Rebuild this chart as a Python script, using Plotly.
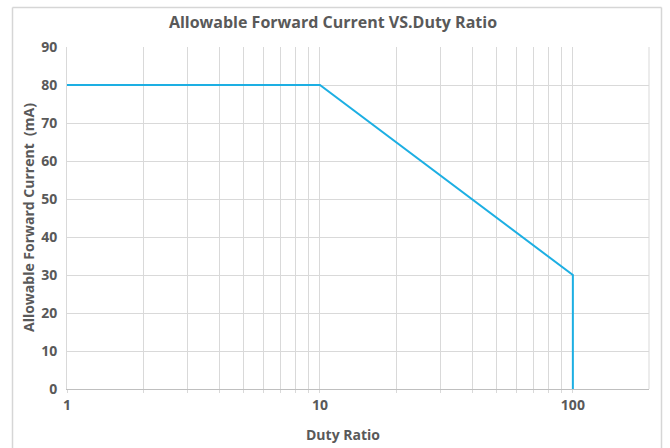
import plotly.graph_objects as go

duty_ratio = [1, 10, 100, 100]
current_ma = [80, 80, 30, 0]

x_grid_vals = [1, 2, 3, 4, 5, 6, 7, 8, 9, 10, 20, 30, 40, 50, 60, 70, 80, 90, 100]
x_grid_text = ["1", "", "", "", "", "", "", "", "", "10", "", "", "", "", "", "", "", "", "100"]
y_ticks = [0, 10, 20, 30, 40, 50, 60, 70, 80, 90]

font_family = "Open Sans, Noto Sans, sans-serif"
text_color = "#595959"
grid_color = "#d9d9d9"

W, H = 670, 448
L, R, T, B = 67, 21, 47, 59
pw, ph = W - L - R, H - T - B

fig = go.Figure()
fig.add_trace(go.Scatter(
    x=duty_ratio, y=current_ma, mode="lines",
    line=dict(color="#1dafe3", width=2),
    showlegend=False, hoverinfo="skip",
))

def px_x(x):
    return (x - L) / pw

def px_y(y):
    return (H - B - y) / ph

frame = dict(color="#d6d6d6", width=1.5)
fig.update_layout(
    width=W, height=H,
    margin=dict(l=L, r=R, t=T, b=B, autoexpand=False),
    paper_bgcolor="white", plot_bgcolor="white",
    title=dict(text="<b>Allowable Forward Current VS.Duty Ratio</b>",
               x=0.497, xanchor="center", y=1 - 22 / H, yanchor="middle",
               font=dict(family=font_family, size=16, color=text_color)),
    font=dict(family=font_family, color=text_color),
    xaxis=dict(
        type="log", range=[0, 2.301],
        tickvals=x_grid_vals, ticktext=x_grid_text,
        tickfont=dict(size=14, color=text_color, weight="bold"),
        showgrid=True, gridcolor=grid_color, gridwidth=1,
        showline=True, linecolor="#bfbfbf", linewidth=1, mirror=False,
        ticks="outside", ticklen=3, tickcolor=grid_color,
        zeroline=False, automargin=False,
    ),
    yaxis=dict(
        range=[0, 90], tickvals=y_ticks,
        tickfont=dict(size=14, color=text_color, weight="bold"),
        showgrid=True, gridcolor=grid_color, gridwidth=1,
        showline=True, linecolor="#d9d9d9", linewidth=1,
        zeroline=False, ticks="", ticklabelstandoff=6, automargin=False,
    ),
    annotations=[
        dict(text="<b>Duty Ratio</b>", xref="paper", yref="paper",
             x=px_x(343), y=px_y(434), xanchor="center", yanchor="middle",
             showarrow=False, font=dict(family=font_family, size=14, color=text_color)),
        dict(text="<b>Allowable Forward Current  (mA)</b>", xref="paper", yref="paper",
             x=px_x(28), y=px_y(218), xanchor="center", yanchor="middle", textangle=-90,
             showarrow=False, font=dict(family=font_family, size=14, color=text_color)),
    ],
    shapes=[
        dict(type="line", xref="paper", yref="paper", x0=1, x1=1, y0=0, y1=1,
             line=dict(color=grid_color, width=1)),
        dict(type="line", xref="paper", yref="paper",
             x0=px_x(12.5), x1=px_x(12.5), y0=px_y(448), y1=px_y(7.5), line=frame),
        dict(type="line", xref="paper", yref="paper",
             x0=px_x(661.5), x1=px_x(661.5), y0=px_y(448), y1=px_y(7.5), line=frame),
        dict(type="line", xref="paper", yref="paper",
             x0=px_x(12.5), x1=px_x(661.5), y0=px_y(7.5), y1=px_y(7.5), line=frame),
    ],
)

fig.write_html("out.html", config={"displayModeBar": False},
               post_script="document.body.style.margin='0';")
